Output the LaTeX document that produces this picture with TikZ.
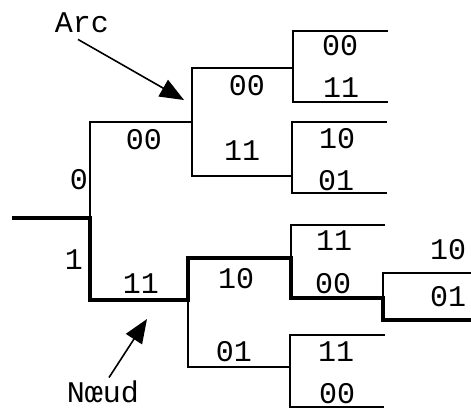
\documentclass[tikz,border=0pt]{standalone}
\usepackage{fontspec}
\setmonofont{Liberation Mono}
\usetikzlibrary{arrows.meta}

\begin{document}
\begin{tikzpicture}[x=0.5pt,y=-0.5pt,
    br/.style={line width=1pt},
    hot/.style={line width=2.3pt},
    lbl/.style={font=\ttfamily\fontsize{15}{17}\selectfont,inner sep=1pt},
    ptr/.style={line width=0.8pt,-{Triangle[length=12pt,width=9.5pt]}}]
  \useasboundingbox (0,0) rectangle (471,409);
  % branch points
  \coordinate (r)   at (12,218);
  \coordinate (a)   at (90,218);
  \coordinate (b0)  at (192,122);
  \coordinate (b1)  at (188,300);
  \coordinate (c00) at (293,68);
  \coordinate (c01) at (292,176);
  \coordinate (c10) at (291,258);
  \coordinate (c11) at (290,367);
  \coordinate (d)   at (383,298);
  % free ends
  \coordinate (e000) at (388,31);
  \coordinate (e001) at (388,102);
  \coordinate (e010) at (387,122);
  \coordinate (e011) at (387,193);
  \coordinate (e100) at (385,225);
  \coordinate (e110) at (385,335);
  \coordinate (e111) at (384,407);
  \coordinate (ed0)  at (471,273);
  \coordinate (ed1)  at (471,320);
  % thin branches
  \foreach \p/\q in {a/b0,b0/c00,b0/c01,c00/e000,c00/e001,c01/e010,c01/e011,
                     b1/c11,c10/e100,d/ed0,c11/e110,c11/e111}
    \draw[br] (\p) |- (\q);
  % chosen path
  \draw[hot,line join=miter] (r) -- (a) |- (b1) |- (c10) |- (d) |- (ed1);
  % branch labels
  \foreach \n/\x/\y/\t in {t0/79/180/0,t1/74/260/1,
      t00/144/140/00,t11/141/284/11,
      t000/247/86/00,t011/242/151/11,t110/236/279/10,t101/234/352/01,
      u00/340/46/00,u11/341/88/11,u10/337/139/10,u01/336/181/01,
      v11/334/241/11,v00/333/284/00,w10/448/250/10,w01/448/297/01,
      x11/336/352/11,x00/337/394/00}
    \node[lbl] (\n) at (\x,\y) {\t};
  % pointers
  \node[lbl] (arc) at (82,23) {Arc};
  \node[lbl] (nd) at (103,392) {Nœud};
  \coordinate (arctip) at (184,100);
  \coordinate (ndtip) at (147,319);
  \draw[ptr] ([shift={(-4,4)}]arc.south) -- (arctip);
  \draw[ptr] ([shift={(6,-1)}]nd.north) -- (ndtip);
\end{tikzpicture}
\end{document}
